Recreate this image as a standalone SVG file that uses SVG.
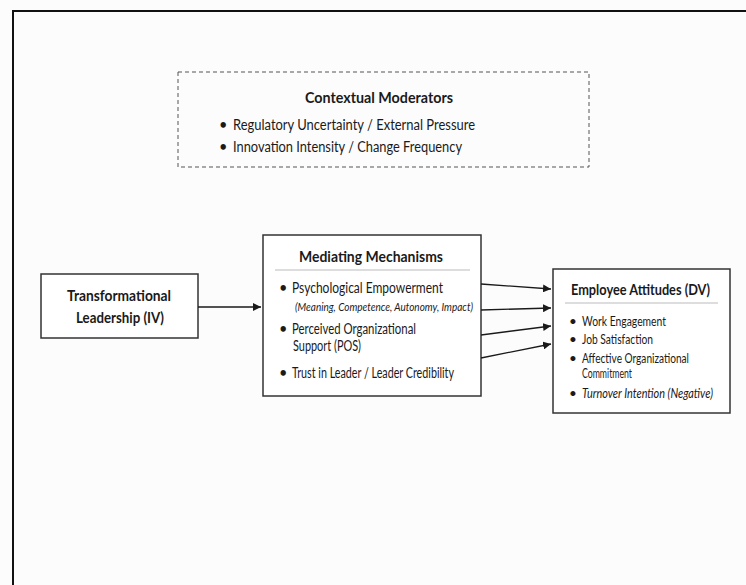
<svg xmlns="http://www.w3.org/2000/svg" width="746" height="585" viewBox="0 0 746 585">
<defs>
<style>
text{font-family:Lato,"Open Sans","Liberation Sans",sans-serif;fill:#1a1a1a;}
.t{font-size:15.5px;font-weight:bold;}
.b{font-size:14.5px;}
.s{font-size:13.5px;}
.i{font-size:12px;font-style:italic;}
.box{fill:#fff;stroke:#333;stroke-width:1.5;}
.sep{stroke:#bbb;stroke-width:1;}
.c{stroke:#1a1a1a;stroke-width:1.3;fill:none;marker-end:url(#ah);}
</style>
<marker id="ah" viewBox="0 0 10 10" refX="10" refY="5" markerWidth="8" markerHeight="8" markerUnits="userSpaceOnUse" orient="auto"><path d="M0,0 L10,5 L0,10 z" fill="#1a1a1a"/></marker>
</defs>
<rect x="0" y="0" width="746" height="585" fill="#fcfcfc"/>
<path d="M13,585 V11 H746" fill="none" stroke="#111" stroke-width="2"/>
<g id="moderators">
<rect x="178" y="72" width="411" height="95" fill="none" stroke="#555" stroke-width="1" stroke-dasharray="4,3"/>
<text class="t" x="305" y="103" textLength="148" lengthAdjust="spacingAndGlyphs">Contextual Moderators</text>
<text class="b" x="219" y="130">•</text><text class="b" x="233" y="130" textLength="242" lengthAdjust="spacingAndGlyphs">Regulatory Uncertainty / External Pressure</text>
<text class="b" x="219" y="152">•</text><text class="b" x="233" y="152" textLength="229" lengthAdjust="spacingAndGlyphs">Innovation Intensity / Change Frequency</text>
</g>
<g id="tl">
<rect class="box" x="41" y="274" width="157" height="64"/>
<text class="t" x="67" y="301" textLength="104" lengthAdjust="spacingAndGlyphs">Transformational</text>
<text class="t" x="76" y="323" textLength="88" lengthAdjust="spacingAndGlyphs">Leadership (IV)</text>
</g>
<g id="mediating">
<rect class="box" x="263" y="235" width="218" height="161"/>
<text class="t" x="299" y="262" textLength="144" lengthAdjust="spacingAndGlyphs">Mediating Mechanisms</text>
<line class="sep" x1="275" y1="270" x2="470" y2="270"/>
<text class="b" x="279" y="293">•</text><text class="b" x="292" y="293" textLength="151" lengthAdjust="spacingAndGlyphs">Psychological Empowerment</text>
<text class="i" x="295" y="311" textLength="178" lengthAdjust="spacingAndGlyphs">(Meaning, Competence, Autonomy, Impact)</text>
<text class="b" x="279" y="334">•</text><text class="b" x="292" y="334" textLength="124" lengthAdjust="spacingAndGlyphs">Perceived Organizational</text>
<text class="b" x="293" y="351" textLength="68" lengthAdjust="spacingAndGlyphs">Support (POS)</text>
<text class="b" x="279" y="378">•</text><text class="b" x="292" y="378" textLength="162" lengthAdjust="spacingAndGlyphs">Trust in Leader / Leader Credibility</text>
</g>
<g id="employee">
<rect class="box" x="553" y="269" width="177" height="144"/>
<text class="t" x="571" y="295" textLength="139" lengthAdjust="spacingAndGlyphs">Employee Attitudes (DV)</text>
<line class="sep" x1="565" y1="303" x2="718" y2="303"/>
<text class="s" x="569" y="326">•</text><text class="s" x="582" y="326" textLength="84" lengthAdjust="spacingAndGlyphs">Work Engagement</text>
<text class="s" x="569" y="344">•</text><text class="s" x="582" y="344" textLength="71" lengthAdjust="spacingAndGlyphs">Job Satisfaction</text>
<text class="s" x="569" y="363">•</text><text class="s" x="582" y="363" textLength="107" lengthAdjust="spacingAndGlyphs">Affective Organizational</text>
<text class="s" x="582" y="378" textLength="50" lengthAdjust="spacingAndGlyphs">Commitment</text>
<text class="s" x="569" y="398">•</text><text class="s" x="582" y="398" style="font-style:italic" textLength="131" lengthAdjust="spacingAndGlyphs">Turnover Intention (Negative)</text>
</g>
<g id="connectors">
<line class="c" x1="198" y1="307" x2="261" y2="307"/>
<line class="c" x1="481" y1="284" x2="551" y2="289"/>
<line class="c" x1="481" y1="310" x2="551" y2="308"/>
<line class="c" x1="481" y1="335" x2="551" y2="326"/>
<line class="c" x1="481" y1="358" x2="551" y2="344"/>
</g>
</svg>
